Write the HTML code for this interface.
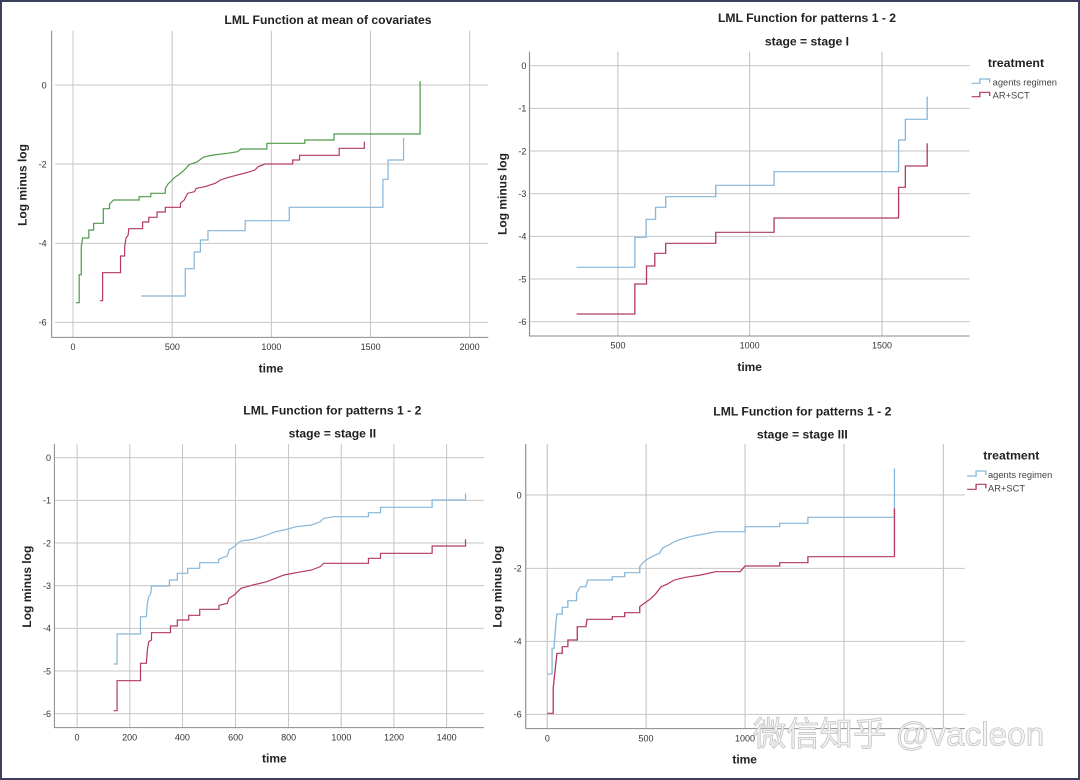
<!DOCTYPE html>
<html><head><meta charset="utf-8"><style>
html,body{margin:0;padding:0;background:#fff}
svg{display:block}
text{font-family:"Liberation Sans","Noto Sans CJK SC",sans-serif}
.t{font-size:36.5px;font-weight:bold;fill:#222;text-anchor:middle}
.ax{font-size:36px;font-weight:bold;fill:#222;text-anchor:middle}
.tk{font-size:27px;fill:#333}
.yt{text-anchor:end}
.xt{text-anchor:middle}
.g{stroke:#c6c6c6;stroke-width:3;fill:none}
.a{stroke:#8a8a8a;stroke-width:3;fill:none}
.lg{font-size:28px;fill:#444}
.lt{font-size:37px;font-weight:bold;fill:#222;text-anchor:middle}
polyline{fill:none;stroke-width:3.5}
.gr{stroke:#4f9a4a}.rd{stroke:#b23a5c}.bl{stroke:#86b6d8}
</style></head><body>
<svg width="1080" height="780" viewBox="0 0 1080 780">
<rect x="1" y="1" width="1078" height="778" fill="#fff" stroke="#3d3f5e" stroke-width="2"/>

<!-- Panel 1 -->
<g transform="scale(0.33333)">
<g transform="scale(1.033,1)">
<g class="g">
<line x1="160" y1="255" x2="1418" y2="255"/><line x1="160" y1="492" x2="1418" y2="492"/><line x1="160" y1="730" x2="1418" y2="730"/><line x1="160" y1="967" x2="1418" y2="967"/>
<line x1="212" y1="92" x2="212" y2="1012"/><line x1="500" y1="92" x2="500" y2="1012"/><line x1="788" y1="92" x2="788" y2="1012"/><line x1="1076" y1="92" x2="1076" y2="1012"/><line x1="1364" y1="92" x2="1364" y2="1012"/>
</g>
<path class="a" d="M150 92 V1012 H1418"/>
<polyline class="gr" points="220,908 230,908 230,824 236,824 236,740 240,714 258,714 258,690 272,690 272,670 300,670 300,626 318,626 318,612 330,600 404,600 404,590 438,590 438,580 480,580 480,565 488,552 500,540 510,530 518,525 530,515 540,505 548,495 560,490 570,487 580,480 590,472 605,468 620,465 660,460 690,455 700,447 775,447 775,430 885,430 885,420 970,420 970,402 1220,402 1220,243"/>
<polyline class="rd" points="290,902 298,902 298,818 350,818 350,768 362,768 362,740 366,714 372,706 374,686 414,686 414,666 432,666 432,652 456,652 456,636 480,636 480,622 524,622 524,610 535,600 545,580 565,575 570,565 595,560 625,550 640,540 660,533 690,525 720,517 740,510 750,500 770,492 850,492 850,480 870,480 870,466 985,466 985,445 1058,445 1058,425"/>
<polyline class="bl" points="410,888 538,888 538,806 564,806 564,756 582,756 582,720 604,720 604,692 712,692 712,662 840,662 840,622 1112,622 1112,538 1127,538 1127,480 1172,480 1172,414"/>
</g>
<text class="t" x="984" y="72">LML Function at mean of covariates</text>
<g class="tk yt"><text x="140" y="265">0</text><text x="140" y="502">-2</text><text x="140" y="740">-4</text><text x="140" y="977">-6</text></g>
<g class="tk xt"><text x="219" y="1050">0</text><text x="517" y="1050">500</text><text x="814" y="1050">1000</text><text x="1112" y="1050">1500</text><text x="1409" y="1050">2000</text></g>
<text class="ax" x="813" y="1118">time</text>
<text class="ax" transform="translate(80,555) rotate(-90)">Log minus log</text>
</g>

<!-- Panel 2 -->
<g transform="translate(490,0) scale(0.33333)">
<g transform="scale(1.1287,1)">
<g class="g">
<line x1="105" y1="197" x2="1275" y2="197"/><line x1="105" y1="325" x2="1275" y2="325"/><line x1="105" y1="453" x2="1275" y2="453"/><line x1="105" y1="581" x2="1275" y2="581"/><line x1="105" y1="709" x2="1275" y2="709"/><line x1="105" y1="837" x2="1275" y2="837"/><line x1="105" y1="965" x2="1275" y2="965"/>
<line x1="340" y1="155" x2="340" y2="1008"/><line x1="690" y1="155" x2="690" y2="1008"/><line x1="1042" y1="155" x2="1042" y2="1008"/>
</g>
<path class="a" d="M105 155 V1008 H1275"/>
<path d="M1280 250 H1302 V237 H1328 V248" stroke="#86b6d8" stroke-width="3.5" fill="none"/>
<path d="M1280 290 H1302 V277 H1328 V288" stroke="#b23a5c" stroke-width="3.5" fill="none"/>
<polyline class="bl" points="230,802 385,802 385,712 415,712 415,658 440,658 440,622 467,622 467,590 600,590 600,556 755,556 755,515 1086,515 1086,420 1104,420 1104,358 1162,358 1162,290"/>
<polyline class="rd" points="230,942 385,942 385,852 416,852 416,798 438,798 438,760 467,760 467,730 600,730 600,697 755,697 755,654 1086,654 1086,562 1104,562 1104,498 1162,498 1162,430"/>
</g>
<text class="t" x="951" y="66">LML Function for patterns 1 - 2</text>
<text class="t" x="951" y="136">stage = stage I</text>
<g class="tk yt"><text x="109" y="207">0</text><text x="109" y="335">-1</text><text x="109" y="463">-2</text><text x="109" y="591">-3</text><text x="109" y="719">-4</text><text x="109" y="847">-5</text><text x="109" y="975">-6</text></g>
<g class="tk xt"><text x="384" y="1045">500</text><text x="779" y="1045">1000</text><text x="1176" y="1045">1500</text></g>
<text class="ax" x="779" y="1113">time</text>
<text class="ax" transform="translate(49,582) rotate(-90)">Log minus log</text>
<text class="lt" x="1578" y="201">treatment</text>
<text class="lg" x="1508" y="256">agents regimen</text>
<text class="lg" x="1508" y="296">AR+SCT</text>
</g>

<!-- Panel 3 -->
<g transform="translate(0,390) scale(0.33333)">
<g transform="scale(1.033,1)">
<g class="g">
<line x1="158" y1="203" x2="1405" y2="203"/><line x1="158" y1="331" x2="1405" y2="331"/><line x1="158" y1="459" x2="1405" y2="459"/><line x1="158" y1="587" x2="1405" y2="587"/><line x1="158" y1="715" x2="1405" y2="715"/><line x1="158" y1="843" x2="1405" y2="843"/><line x1="158" y1="971" x2="1405" y2="971"/>
<line x1="224" y1="162" x2="224" y2="1013"/><line x1="377" y1="162" x2="377" y2="1013"/><line x1="530" y1="162" x2="530" y2="1013"/><line x1="684" y1="162" x2="684" y2="1013"/><line x1="838" y1="162" x2="838" y2="1013"/><line x1="991" y1="162" x2="991" y2="1013"/><line x1="1144" y1="162" x2="1144" y2="1013"/><line x1="1297" y1="162" x2="1297" y2="1013"/>
</g>
<path class="a" d="M158 162 V1013 H1405"/>
<polyline class="bl" points="330,822 340,822 340,732 408,732 408,680 425,680 428,640 432,620 438,610 440,588 492,588 492,570 515,570 515,550 545,550 545,535 580,535 580,518 635,518 635,508 660,498 665,480 680,470 690,460 700,453 735,448 775,435 800,425 825,420 860,410 905,405 930,395 940,385 970,380 1070,380 1070,368 1105,368 1105,352 1255,352 1255,330 1352,330 1352,310"/>
<polyline class="rd" points="330,962 340,962 340,872 408,872 408,820 425,820 428,780 432,755 440,750 440,728 495,728 495,708 515,708 515,690 548,690 548,676 580,676 580,658 636,658 636,646 660,640 665,625 680,615 700,595 735,585 775,575 800,565 825,555 860,548 905,540 930,530 940,520 1070,520 1070,505 1105,505 1105,490 1255,490 1255,468 1352,468 1352,448"/>
</g>
<text class="t" x="997" y="74">LML Function for patterns 1 - 2</text>
<text class="t" x="997" y="142">stage = stage II</text>
<g class="tk yt"><text x="153" y="213">0</text><text x="153" y="341">-1</text><text x="153" y="469">-2</text><text x="153" y="597">-3</text><text x="153" y="725">-4</text><text x="153" y="853">-5</text><text x="153" y="981">-6</text></g>
<g class="tk xt"><text x="231" y="1051">0</text><text x="389" y="1051">200</text><text x="547" y="1051">400</text><text x="707" y="1051">600</text><text x="866" y="1051">800</text><text x="1024" y="1051">1000</text><text x="1182" y="1051">1200</text><text x="1340" y="1051">1400</text></g>
<text class="ax" x="823" y="1118">time</text>
<text class="ax" transform="translate(93,590) rotate(-90)">Log minus log</text>
</g>

<!-- Panel 4 -->
<g transform="translate(490,390) scale(0.33333)">
<g transform="scale(1.1287,1)">
<g class="g">
<line x1="95" y1="315" x2="1262" y2="315"/><line x1="95" y1="535" x2="1262" y2="535"/><line x1="95" y1="754" x2="1262" y2="754"/><line x1="95" y1="973" x2="1262" y2="973"/>
<line x1="152" y1="162" x2="152" y2="1016"/><line x1="415" y1="162" x2="415" y2="1016"/><line x1="678" y1="162" x2="678" y2="1016"/><line x1="941" y1="162" x2="941" y2="1016"/><line x1="1205" y1="162" x2="1205" y2="1016"/>
</g>
<path class="a" d="M95 162 V1016 H1262"/>
<path d="M1268 258 H1292 V243 H1318 V255" stroke="#86b6d8" stroke-width="3.5" fill="none"/>
<path d="M1268 298 H1292 V283 H1318 V295" stroke="#b23a5c" stroke-width="3.5" fill="none"/>
<polyline class="bl" points="152,852 165,852 165,775 170,775 175,700 178,672 192,672 192,652 207,652 207,632 230,632 230,610 240,590 255,590 260,570 325,570 325,560 358,560 358,548 398,548 398,530 405,520 415,510 430,500 450,490 460,473 475,465 490,455 515,445 540,438 570,432 600,425 678,425 678,410 770,410 770,400 845,400 845,382 1075,382 1075,235"/>
<polyline class="rd" points="152,970 168,970 168,895 175,820 178,790 192,790 192,770 207,770 207,750 232,750 232,710 255,710 258,688 325,688 325,680 358,680 358,668 398,668 398,650 410,640 425,628 440,612 455,590 470,583 490,570 520,562 560,555 600,545 665,545 678,528 770,528 770,518 845,518 845,500 1075,500 1075,355"/>
</g>
<text class="t" x="937" y="76">LML Function for patterns 1 - 2</text>
<text class="t" x="937" y="145">stage = stage III</text>
<g class="tk yt"><text x="95" y="325">0</text><text x="95" y="545">-2</text><text x="95" y="764">-4</text><text x="95" y="983">-6</text></g>
<g class="tk xt"><text x="172" y="1054">0</text><text x="468" y="1054">500</text><text x="765" y="1054">1000</text></g>
<text class="ax" x="764" y="1121">time</text>
<text class="ax" transform="translate(34,590) rotate(-90)">Log minus log</text>
<text class="lt" x="1564" y="209">treatment</text>
<text class="lg" x="1494" y="264">agents regimen</text>
<text class="lg" x="1494" y="304">AR+SCT</text>
<text x="789" y="1066" font-size="100" fill="#f4f4f4" stroke="#c4c4c4" stroke-width="2.5">微信知乎 @vacleon</text>
</g>
</svg>
</body></html>
